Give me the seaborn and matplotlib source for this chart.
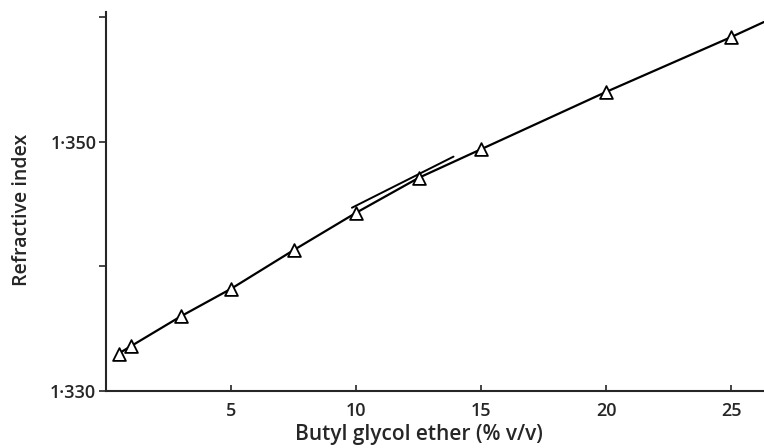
import matplotlib
matplotlib.use("Agg")
import matplotlib.pyplot as plt
import seaborn as sns
import pandas as pd

# Data
concentration = [0.5, 1, 3, 5, 7.5, 10, 12.5, 15, 20, 25]
refractive_index = [1.3330, 1.3336, 1.3360, 1.3382, 1.3413, 1.3443, 1.3471, 1.3494, 1.3540, 1.3584]

# Continuation of the upper straight line to the right edge
line_end_x = [26.3]
line_end_y = [1.3596]

# Tangent line drawn near the break
tangent_x = [9.83, 13.89]
tangent_y = [1.3447, 1.3488]

y_ticks = [1.330, 1.340, 1.350, 1.360]
y_tick_labels = ["1·330", "", "1·350", ""]
x_ticks = [5, 10, 15, 20, 25]
x_tick_labels = ["5", "10", "15", "20", "25"]

points = pd.DataFrame({"x": concentration, "y": refractive_index})
curve = pd.DataFrame({"x": concentration + line_end_x, "y": refractive_index + line_end_y})
tangent = pd.DataFrame({"x": tangent_x, "y": tangent_y})

sns.set_theme(style="ticks")
plt.rcParams["font.family"] = ["Open Sans", "DejaVu Sans"]

fig = plt.figure(figsize=(7.64, 4.48), dpi=100)
ax = fig.add_axes([106 / 764, 1 - 391 / 448, 1 - 106 / 764, (391 - 12) / 448])

sns.lineplot(data=curve, x="x", y="y", ax=ax, color="black", linewidth=1.6,
             sort=False, estimator=None, clip_on=False)
sns.lineplot(data=tangent, x="x", y="y", ax=ax, color="black", linewidth=1.4,
             sort=False, estimator=None)
sns.scatterplot(data=points, x="x", y="y", ax=ax, marker="^", s=85,
                facecolor="white", edgecolor="black", linewidth=1.3, zorder=5)

ax.set_xlim(0, 26.3)
ax.set_ylim(1.330, 1.3604)
ax.set_xticks(x_ticks)
ax.set_xticklabels(x_tick_labels)
ax.set_yticks(y_ticks)
ax.set_yticklabels(y_tick_labels)

ax.tick_params(axis="x", direction="in", length=4, width=1.2, labelsize=13, pad=8)
ax.tick_params(axis="y", direction="out", length=5, width=1.2, labelsize=13, pad=2)
for lbl in ax.get_xticklabels() + ax.get_yticklabels():
    lbl.set_fontweight("semibold")

sns.despine(ax=ax)
ax.spines["left"].set_linewidth(1.5)
ax.spines["bottom"].set_linewidth(1.5)

ax.set_xlabel("Butyl glycol ether (% v/v)", fontsize=15, fontweight="semibold")
ax.set_ylabel("Refractive index", fontsize=14, fontweight="semibold")
ax.xaxis.set_label_coords(0.4757, -0.088)
ax.yaxis.set_label_coords(-0.113, 0.4776)

fig.savefig("out.png", dpi=100)
